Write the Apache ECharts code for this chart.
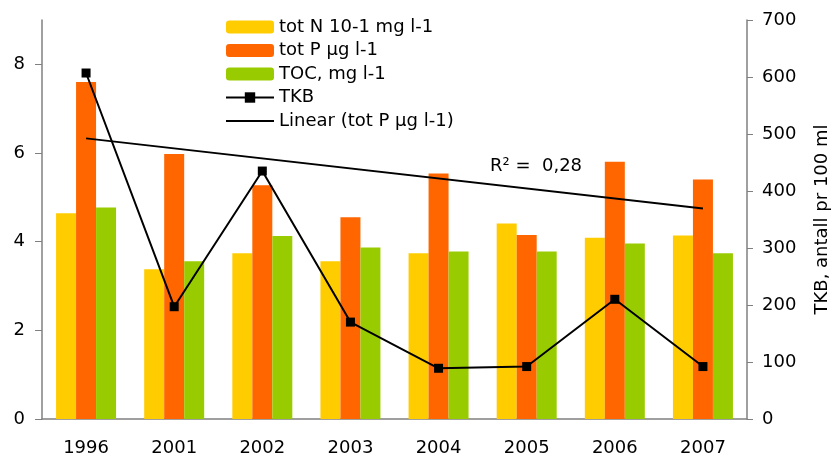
<!DOCTYPE html>
<html><head><meta charset="utf-8">
<script src="https://cdn.jsdelivr.net/npm/echarts@6/dist/echarts.min.js"></script>
<style>html,body{margin:0;padding:0;background:#fff}#c{width:834px;height:461px}</style>
</head><body><div id="c"></div>
<script>
var years = ['1996','2001','2002','2003','2004','2005','2006','2007'];
var totN = [4.64, 3.38, 3.74, 3.56, 3.74, 4.41, 4.09, 4.14];
var totP = [7.60, 5.98, 5.27, 4.55, 5.54, 4.15, 5.80, 5.40];
var toc = [4.77, 3.56, 4.13, 3.87, 3.78, 3.78, 3.96, 3.74];
var tkb = [607, 197, 435, 170, 89, 92, 210, 92];
var trendStart = 6.33, trendEnd = 4.75;
var trend = [trendStart, null, null, null, null, null, null, trendEnd];
var leftTicks = [0, 2, 4, 6, 8];
var rText = 'R\u00b2 =  0,28';

var F = 'DejaVu Sans';
var chart = echarts.init(document.getElementById('c'));
chart.setOption({
  animation: false,
  textStyle: {fontFamily: F},
  grid: {left: 42, right: 87, top: 20, bottom: 42, containLabel: false, outerBoundsMode: 'none'},
  legend: {
    orient: 'vertical', left: 225, top: 18, padding: 0,
    itemWidth: 48, itemHeight: 13, itemGap: 5.5,
    textStyle: {fontFamily: F, fontSize: 18, color: '#000', lineHeight: 18},
    data: ['tot N 10-1 mg l-1', 'tot P µg l-1', 'TOC, mg l-1', 'TKB',
      {name: 'Linear (tot P µg l-1)', itemStyle: {opacity: 0}}]
  },
  xAxis: {
    type: 'category', data: years,
    axisLine: {lineStyle: {color: '#808080', width: 1.5}},
    axisTick: {length: 6, lineStyle: {color: '#808080'}},
    axisLabel: {fontFamily: F, fontSize: 18, color: '#000', margin: 20}
  },
  yAxis: [{
    type: 'value', min: 0, max: 9,
    axisLine: {show: true, lineStyle: {color: '#808080', width: 1.5}},
    axisTick: {show: true, length: 7, customValues: leftTicks, lineStyle: {color: '#808080'}},
    axisLabel: {fontFamily: F, fontSize: 18, color: '#000', margin: 17, customValues: leftTicks},
    splitLine: {show: false}
  }, {
    type: 'value', min: 0, max: 700, interval: 100, position: 'right',
    name: 'TKB, antall pr 100 ml', nameLocation: 'middle', nameRotate: 90, nameGap: 66,
    nameTextStyle: {fontFamily: F, fontSize: 18, color: '#000'},
    axisLine: {show: true, lineStyle: {color: '#808080', width: 1.5}},
    axisTick: {show: true, length: 6, lineStyle: {color: '#808080'}},
    axisLabel: {fontFamily: F, fontSize: 18, color: '#000', margin: 15},
    splitLine: {show: false}
  }],
  graphic: [{
    type: 'text', left: 490, top: 157,
    style: {text: rText, font: '18px "DejaVu Sans"', fill: '#000'}
  }],
  series: [
    {name: 'tot N 10-1 mg l-1', type: 'bar', data: totN, barWidth: 20, barGap: '0%', itemStyle: {color: '#FFCC00'}},
    {name: 'tot P µg l-1', type: 'bar', data: totP, barWidth: 20, barGap: '0%', itemStyle: {color: '#FF6600'}},
    {name: 'TOC, mg l-1', type: 'bar', data: toc, barWidth: 20, barGap: '0%', itemStyle: {color: '#99CC00'}},
    {name: 'TKB', type: 'line', yAxisIndex: 1, data: tkb, symbol: 'rect', symbolSize: 9,
     lineStyle: {color: '#000', width: 2}, itemStyle: {color: '#000'}, z: 5},
    {name: 'Linear (tot P µg l-1)', type: 'line', data: trend, connectNulls: true, symbol: 'none',
     lineStyle: {color: '#000', width: 2}, itemStyle: {color: '#000'}, z: 4}
  ]
});
</script></body></html>
